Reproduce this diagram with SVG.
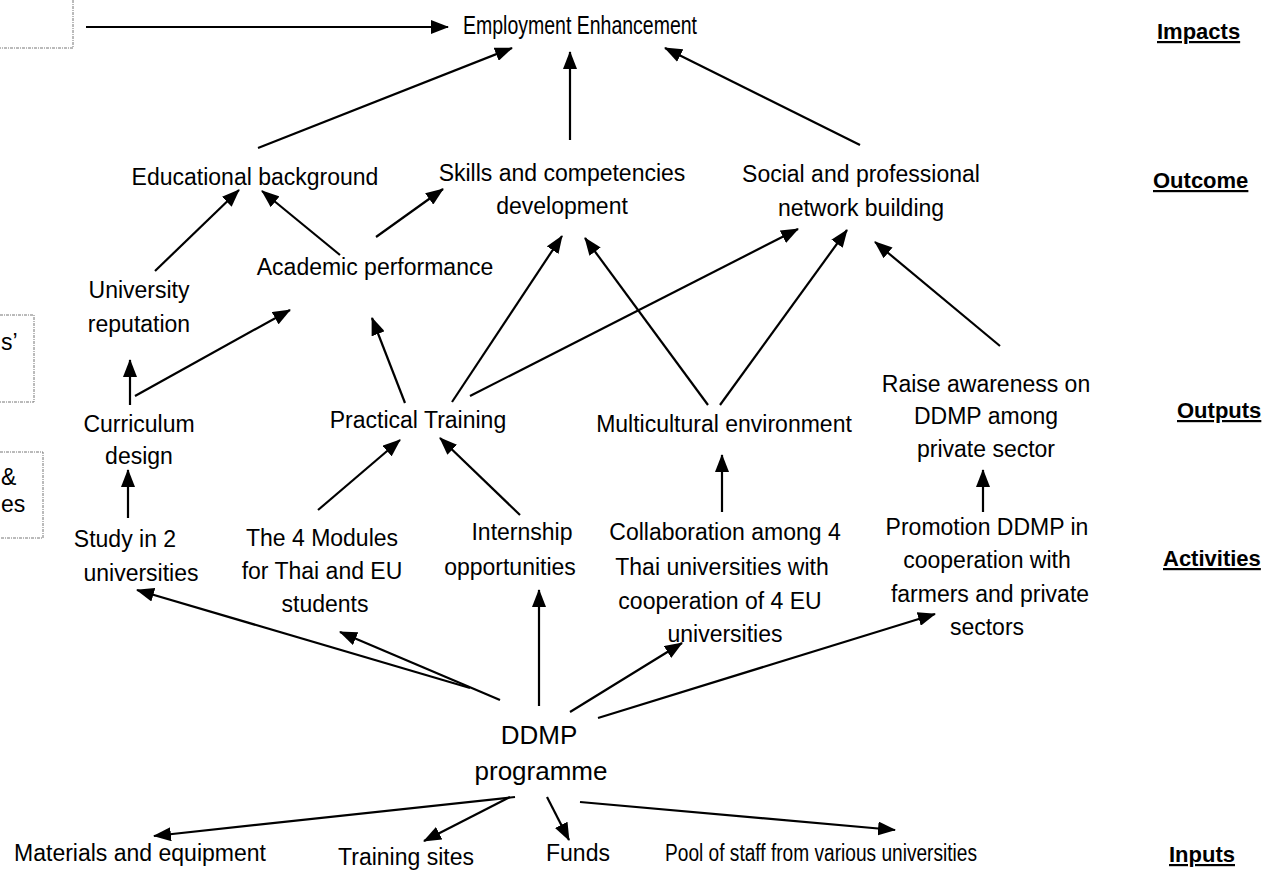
<svg xmlns="http://www.w3.org/2000/svg" width="1262" height="875" viewBox="0 0 1262 875">
<defs>
<style>
.t{font-family:"Liberation Sans",Arial,sans-serif;font-size:23px;fill:#000;text-anchor:middle}
.s{text-anchor:start}
.big{font-size:26px}
.tall{font-size:25px}
.h{font-family:"Liberation Sans",Arial,sans-serif;font-size:22px;font-weight:bold;fill:#000;text-decoration:underline}
.c line{stroke:#000;stroke-width:2.2;marker-end:url(#ah)}
.box{fill:none;stroke:#777;stroke-width:1;stroke-dasharray:3 1 1 1}
</style>
<marker id="ah" markerWidth="18" markerHeight="14" refX="17" refY="7" orient="auto" markerUnits="userSpaceOnUse">
<path d="M0,0 L18,7 L0,14 z" fill="#000"/>
</marker>
</defs>
<rect width="1262" height="875" fill="#fff"/>

<g id="leftboxes">
<path class="box" d="M73,0 V48 H0"/>
<path class="box" d="M0,315 H34 V402 H0"/>
<text class="t s" x="1" y="350">s’</text>
<path class="box" d="M0,452 H43 V538 H0"/>
<text class="t s" x="1" y="485">&amp;</text>
<text class="t s" x="1" y="512">es</text>
</g>

<g id="headings">
<text class="h" x="1157" y="39">Impacts</text>
<text class="h" x="1153" y="188">Outcome</text>
<text class="h" x="1177" y="418">Outputs</text>
<text class="h" x="1163" y="566">Activities</text>
<text class="h" x="1169" y="862">Inputs</text>
</g>

<g id="n-employment"><text class="t s tall" x="463" y="34" textLength="234" lengthAdjust="spacingAndGlyphs">Employment Enhancement</text></g>
<g id="n-edu"><text class="t" x="255" y="185">Educational background</text></g>
<g id="n-skills"><text class="t" x="562" y="181"><tspan x="562">Skills and competencies</tspan><tspan x="562" y="214">development</tspan></text></g>
<g id="n-social"><text class="t" x="861" y="182"><tspan x="861">Social and professional</tspan><tspan x="861" y="216">network building</tspan></text></g>
<g id="n-academic"><text class="t" x="375" y="275">Academic performance</text></g>
<g id="n-university"><text class="t" x="139" y="298"><tspan x="139">University</tspan><tspan x="139" y="332">reputation</tspan></text></g>
<g id="n-curriculum"><text class="t" x="139" y="432"><tspan x="139">Curriculum</tspan><tspan x="139" y="464">design</tspan></text></g>
<g id="n-practical"><text class="t" x="418" y="428">Practical Training</text></g>
<g id="n-multicultural"><text class="t" x="724" y="432">Multicultural environment</text></g>
<g id="n-raise"><text class="t" x="986" y="392"><tspan x="986">Raise awareness on</tspan><tspan x="986" y="424">DDMP among</tspan><tspan x="986" y="457">private sector</tspan></text></g>
<g id="n-study"><text class="t" x="141" y="547"><tspan x="125">Study in 2</tspan><tspan x="141" y="581">universities</tspan></text></g>
<g id="n-modules"><text class="t" x="322" y="546"><tspan x="322">The 4 Modules</tspan><tspan x="322" y="579">for Thai and EU</tspan><tspan x="325" y="612">students</tspan></text></g>
<g id="n-internship"><text class="t" x="520" y="540"><tspan x="522">Internship</tspan><tspan x="510" y="575">opportunities</tspan></text></g>
<g id="n-collab"><text class="t" x="724" y="540"><tspan x="725">Collaboration among 4</tspan><tspan x="722" y="575">Thai universities with</tspan><tspan x="720" y="609">cooperation of 4 EU</tspan><tspan x="725" y="642">universities</tspan></text></g>
<g id="n-promo"><text class="t" x="987" y="535"><tspan x="987">Promotion DDMP in</tspan><tspan x="987" y="568">cooperation with</tspan><tspan x="990" y="602">farmers and private</tspan><tspan x="987" y="635">sectors</tspan></text></g>
<g id="n-ddmp"><text class="t big" x="539" y="744"><tspan x="539">DDMP</tspan><tspan x="541" y="780">programme</tspan></text></g>
<g id="n-materials"><text class="t" x="140" y="861">Materials and equipment</text></g>
<g id="n-training"><text class="t" x="406" y="865">Training sites</text></g>
<g id="n-funds"><text class="t" x="578" y="861">Funds</text></g>
<g id="n-pool"><text class="t s" x="665" y="861" textLength="312" lengthAdjust="spacingAndGlyphs">Pool of staff from various universities</text></g>

<g id="connectors" class="c">
<line x1="86" y1="27" x2="448" y2="27"/>
<line x1="258" y1="148" x2="512" y2="48"/>
<line x1="570" y1="140" x2="570" y2="52"/>
<line x1="860" y1="145" x2="665" y2="48"/>
<line x1="155" y1="271" x2="239" y2="190"/>
<line x1="340" y1="255" x2="262" y2="191"/>
<line x1="376" y1="237" x2="443" y2="189"/>
<line x1="130" y1="405" x2="130" y2="360"/>
<line x1="135" y1="396" x2="290" y2="310"/>
<line x1="405" y1="403" x2="372" y2="318"/>
<line x1="452" y1="402" x2="562" y2="236"/>
<line x1="470" y1="396" x2="798" y2="229"/>
<line x1="708" y1="405" x2="585" y2="238"/>
<line x1="720" y1="405" x2="847" y2="230"/>
<line x1="1000" y1="346" x2="875" y2="242"/>
<line x1="128" y1="518" x2="128" y2="470"/>
<line x1="318" y1="510" x2="400" y2="440"/>
<line x1="520" y1="515" x2="440" y2="438"/>
<line x1="722" y1="512" x2="722" y2="455"/>
<line x1="983" y1="512" x2="983" y2="470"/>
<line x1="470" y1="688" x2="137" y2="590"/>
<line x1="500" y1="700" x2="340" y2="632"/>
<line x1="539" y1="706" x2="539" y2="590"/>
<line x1="570" y1="712" x2="682" y2="643"/>
<line x1="598" y1="718" x2="935" y2="614"/>
<line x1="515" y1="797" x2="154" y2="836"/>
<line x1="510" y1="797" x2="424" y2="841"/>
<line x1="547" y1="797" x2="569" y2="840"/>
<line x1="580" y1="802" x2="895" y2="830"/>
</g>
</svg>
